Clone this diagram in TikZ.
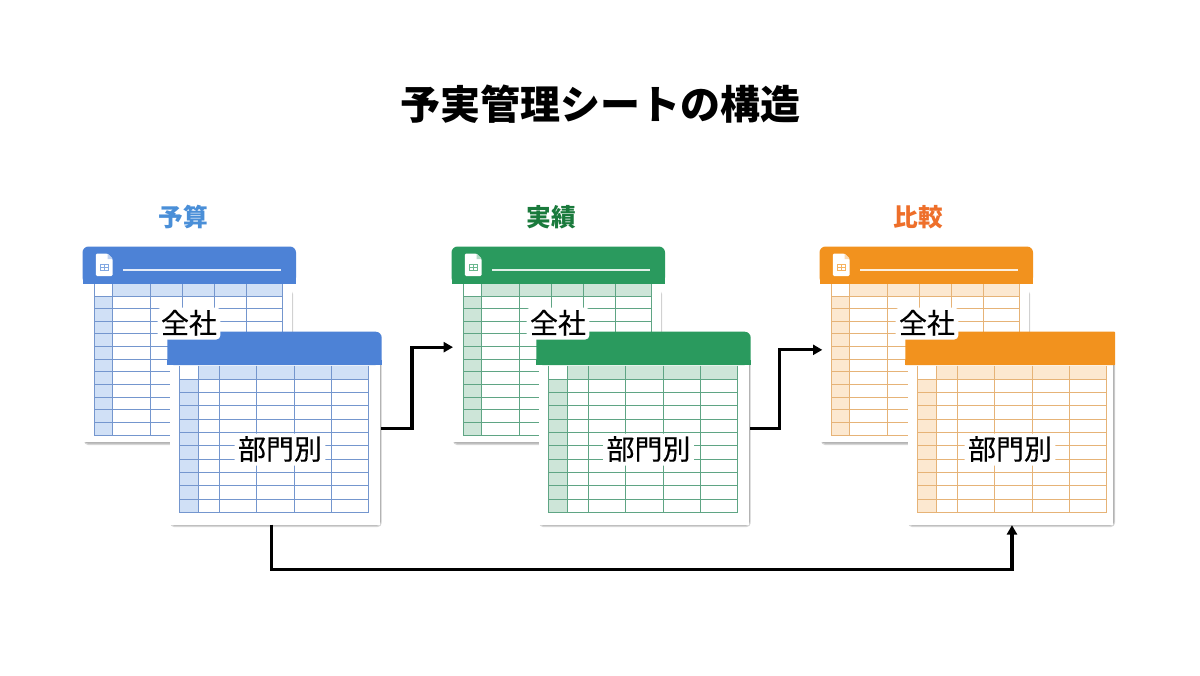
\documentclass[tikz,border=0pt]{standalone}
\usepackage{fontspec}
\setmainfont{Noto Sans CJK JP}
\newfontfamily\labelfont[FakeBold=0.35]{Noto Sans CJK JP}
\usetikzlibrary{arrows.meta}
\definecolor{hA}{HTML}{4D82D6}\definecolor{lA}{HTML}{7496CE}\definecolor{fA}{HTML}{D0E0F6}
\definecolor{hB}{HTML}{2A9A5E}\definecolor{lB}{HTML}{5FA584}\definecolor{fB}{HTML}{CDE5D8}
\definecolor{hC}{HTML}{F2921E}\definecolor{lC}{HTML}{E6B377}\definecolor{fC}{HTML}{FCE8D0}
\definecolor{tA}{HTML}{4A8FD8}\definecolor{tB}{HTML}{1A7A3C}\definecolor{tC}{HTML}{EE6F2A}
\tikzset{
  x=0.75pt,y=-0.75pt,
  cardbody/.style={fill=white,inner sep=0pt,outer sep=0pt,anchor=north west},
  halo/.style={fill=white,rounded corners=3pt,inner xsep=2.5pt,inner ysep=0pt,font=\labelfont\fontsize{21}{21}\selectfont,text=black,text height=19.5pt,text depth=4.5pt},
  titletext/.style={inner sep=0pt,font=\fontsize{30}{30}\selectfont\bfseries},
  headtext/.style={inner sep=0pt,font=\fontsize{18.5}{19}\selectfont\bfseries},
  flow/.style={draw=black,line width=2.3pt,-{Triangle[length=7pt,width=7.5pt]}},
  gridline/.style={line width=1pt},
  softshadow/.style={fill=black,fill opacity=0.16,rounded corners=3pt}
}
% #1 name, #2 x-shift, #3 header, #4 line, #5 tint
\newcommand{\smallsheet}[5]{%
\begin{scope}[shift={(#2,0)}]
  \fill[softshadow] (84,290) rectangle (292,445);
  \fill[softshadow] (84,290) rectangle (293,443.5);
  \node[cardbody,minimum width=208*0.75pt,minimum height=195*0.75pt] (#1) at (84,247) {};
  \fill[#3,rounded corners=4.5pt] (82.5,283.5) -- (82.5,246.5) -- (296,246.5) -- (296,283.5) -- cycle;
  \fill[#3] (82.5,278) rectangle (296,283.5);
  \fill[#5] (94,284) rectangle (282.5,296);
  \fill[#5] (94,296) rectangle (112.5,435);
  \fill[white] (94,284) rectangle (112.5,296);
  \foreach \yy in {296.5,308.5,321.5,333.5,346.5,359.5,371.5,384.5,397.5,409.5,422.5,435.5}
    \draw[gridline,#4] (94,\yy) -- (282.5,\yy);
  \foreach \xx in {94.5,112.5,150.5,182.5,214.5,246.5,282.5}
    \draw[gridline,#4] (\xx,284) -- (\xx,435.5);
  % sheet icon
  \fill[white,rounded corners=1pt] (95.8,253.5) -- (107.5,253.5) -- (112.7,259) -- (112.7,276) -- (95.8,276) -- cycle;
  \fill[#3!35!white] (107.5,253.5) -- (107.5,259) -- (112.7,259) -- cycle;
  \draw[#3!70!white,line width=0.6pt] (100,264) rectangle (108.5,270.5) (100,267.2) -- (108.5,267.2) (104.2,264) -- (104.2,270.5);
  \draw[white!85!#3,line width=0.9pt] (123,270) -- (281,270);
\end{scope}}
% #1 name, #2 x-shift, #3 header, #4 line, #5 tint, #6 header corner radius, #7 header right edge
\newcommand{\bigsheet}[7]{%
\begin{scope}[shift={(#2,0)}]
  \fill[softshadow] (170,360) rectangle ({#7},527);
  \fill[softshadow] (170,360) rectangle ({#7-0.7},525.5);
  \node[cardbody,minimum width=(#7-171.7)*0.75pt,minimum height=192.5*0.75pt] (#1) at (170,332) {};
  \fill[#3,rounded corners=#6] (167.3,365) -- (167.3,331.7) -- (#7,331.7) -- (#7,365) -- cycle;
  \fill[#3] (167.3,360) rectangle (#7,365);
  \fill[#5] (179.3,365.5) rectangle (368.3,379);
  \fill[#5] (179.3,379) rectangle (198.3,512.7);
  \fill[white] (179.3,365.5) rectangle (198.3,379);
  \foreach \yy in {379.5,392.5,405.5,419.5,432.5,445.5,459.5,472.5,485.5,499.5,512.5}
    \draw[gridline,#4] (179.5,\yy) -- (368.5,\yy);
  \foreach \xx in {179.5,198.5,219.5,256.5,294.5,331.5,368.5}
    \draw[gridline,#4] (\xx,365.5) -- (\xx,512.5);
\end{scope}}
\begin{document}
\begin{tikzpicture}
\useasboundingbox (0,0) rectangle (1200,675);
\fill[white] (0,0) rectangle (1200,675);
\node[titletext] (title) at (600.5,104) {予実管理シートの構造};
\node[headtext,text=tA] (headA) at (183.5,217) {予算};
\node[headtext,text=tB] (headB) at (551,217) {実績};
\node[headtext,text=tC] (headC) at (918.5,217) {比較};

\smallsheet{smallA}{0}{hA}{lA}{fA}
\smallsheet{smallB}{369}{hB}{lB}{fB}
\smallsheet{smallC}{737}{hC}{lC}{fC}
\bigsheet{bigA}{0}{hA}{lA}{fA}{4.5pt}{381.7}
\bigsheet{bigB}{369}{hB}{lB}{fB}{4.5pt}{381.7}
\bigsheet{bigC}{738}{hC}{lC}{fC}{0.5pt}{377}

\node[halo] (zenA) at (189,323.5) {全社};
\node[halo] (zenB) at (558,323.5) {全社};
\node[halo] (zenC) at (927,323.5) {全社};
\node[halo] (buA) at (280,449.5) {部門別};
\node[halo] (buB) at (648.5,449.5) {部門別};
\node[halo] (buC) at (1010,449.5) {部門別};

\draw[flow] ([xshift=0.75pt]bigA.east) -- ++(31,0) |- ([yshift=-2pt]smallB.west);
\draw[flow] ([xshift=0.75pt]bigB.east) -- ++(29.5,0) |- ([yshift=-4pt,xshift=1pt]smallC.west);
\draw[flow] ([xshift=-2.6pt]bigA.south) -- ++(0,45) -| ([xshift=1pt,yshift=-0.5pt]bigC.south);
\end{tikzpicture}
\end{document}
